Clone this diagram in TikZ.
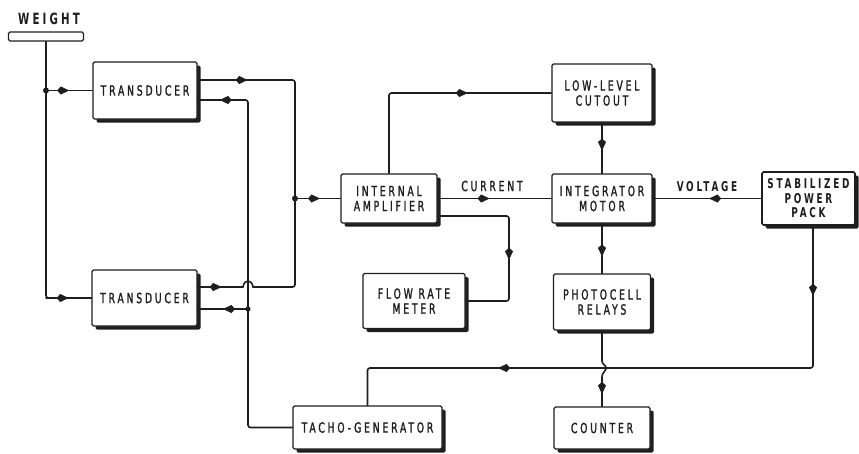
\documentclass[tikz,border=0pt]{standalone}
\usepackage{fontspec}
\setmainfont{DejaVu Sans}[FakeStretch=0.66,LetterSpace=20,UprightFeatures={FakeBold=1.3}]
\usetikzlibrary{arrows.meta,decorations.markings,shadows}
\definecolor{ink}{HTML}{1e1e1e}
\tikzset{
 box/.style={draw=ink, line width=1.3pt, fill=white, rounded corners=1.5pt, inner sep=0pt, align=center,
   font=\fontsize{14}{15}\selectfont, text=ink,
   drop shadow={shadow xshift=3.5pt, shadow yshift=-3.5pt, fill=ink, opacity=1}},
 conn/.style={draw=ink, line width=1.6pt, rounded corners=2.5pt, line cap=round},
 tip/.tip={Kite[length=12pt,width=8pt,inset=3.5pt]},
 midarr/.style={postaction={decorate}, decoration={markings, mark=at position #1 with {\arrow[ink,line width=0.6pt]{tip}}}},
 arrtwo/.style 2 args={postaction={decorate}, decoration={markings,
   mark=at position #1 with {\arrow[ink,line width=0.6pt]{tip}},
   mark=at position #2 with {\arrow[ink,line width=0.6pt]{tip}}}},
 dot/.style={circle, fill=ink, inner sep=0pt, minimum size=6pt},
 lbl/.style={font=\fontsize{14}{15}\selectfont, text=ink, inner sep=0pt},
}
\begin{document}
\begin{tikzpicture}[x=1pt,y=-1pt]
\useasboundingbox (0,0) rectangle (859,453);

% blocks
\node[draw=ink, line width=1.1pt, rounded corners=1.5pt, minimum width=75pt, minimum height=9pt, inner sep=0pt] (wt) at (46,36.5) {};
\node[lbl, font=\fontsize{15.5}{16}\selectfont\bfseries] (wlab) at (49,19) {WEIGHT};
\node[box, minimum width=104pt, minimum height=57pt] (t1) at (145,90.5) {TRANSDUCER};
\node[box, minimum width=105pt, minimum height=56pt] (t2) at (144.5,298) {TRANSDUCER};
\node[box, minimum width=96pt, minimum height=49pt] (amp) at (389,198.5) {INTERNAL\\AMPLIFIER};
\node[box, minimum width=100pt, minimum height=58pt] (llc) at (602,93) {LOW-LEVEL\\CUTOUT};
\node[box, minimum width=100pt, minimum height=49pt] (im) at (602,198.5) {INTEGRATOR\\MOTOR};
\node[box, minimum width=93pt, minimum height=53pt, line width=1.6pt, font=\fontsize{13.5}{14.5}\selectfont\bfseries] (spp) at (808.5,198.5) {STABILIZED\\POWER\\PACK};
\node[box, minimum width=102pt, minimum height=55pt] (frm) at (414,301) {FLOW RATE\\METER};
\node[box, minimum width=97pt, minimum height=56pt] (pr) at (602,302) {PHOTOCELL\\RELAYS};
\node[box, minimum width=149pt, minimum height=43pt] (tg) at (367.5,427.5) {TACHO-GENERATOR};
\node[box, minimum width=96pt, minimum height=42pt] (ctr) at (602,428) {COUNTER};

% labels
\node[lbl] (cur) at (492,186) {CURRENT};
\node[lbl, font=\fontsize{13.5}{14}\selectfont\bfseries] (vol) at (707,187) {VOLTAGE};

% junctions
\coordinate (j1) at (wt.south |- t1.west);
\coordinate (j2) at (295,198.5);
\coordinate (j3) at (248,309);

% weight to transducers
\draw[conn] (wt.south) |- (t2.west);
\draw[conn,midarr=0.5] (wt.south |- t2.west) -- (t2.west);
\draw[conn,midarr=0.5] (j1) -- (t1.west);

% transducer outputs to amplifier
\draw[conn,midarr=50pt] (t1.east |- 0,80) -| (j2);
\draw[conn,midarr=24pt] (t2.east |- 0,287) -- (243,287);
\draw[conn] (243,287) .. controls (244,279) and (252,279) .. (253,287);
\draw[conn] (253,287) -| (j2);
\draw[conn,midarr=25pt] (j2) -- (amp.west);

% tacho feedback to transducers
\draw[conn,midarr=398pt] (tg.west) -| (248,100) -- (t1.east |- 0,100);
\draw[conn,midarr=25pt] (j3) -- (t2.east |- j3);

% amplifier outputs
\draw[conn,midarr=158pt] (amp.north) |- (llc.west);
\draw[conn,midarr=52pt] (amp.east) -- (im.west);
\draw[conn,midarr=114pt] (amp.east |- 0,216) -- (509,216) -- (509,0 |- frm.east) -- (frm.east);

% integrator
\draw[conn,midarr=0.55] (llc.south) -- (im.north);
\draw[conn,midarr=0.48] (spp.west) -- (im.east);
\draw[conn,midarr=0.66] (im.south) -- (pr.north);

% power pack to tacho
\draw[conn,arrtwo={70pt}{456pt}] (spp.south -| 813,0) -- (813,368) -| (tg.north);

% photocell to counter with crossing
\draw[conn, sharp corners, midarr=66pt] (pr.south) -- (602,361) .. controls (602,365) and (607,365) .. (606,369) .. controls (605,373) and (602,372) .. (602,377) -- (ctr.north);

\node[dot] (d1) at (j1) {};
\node[dot] (d2) at (j2) {};
\node[dot, minimum size=5pt] (d3) at (j3) {};
\end{tikzpicture}
\end{document}
